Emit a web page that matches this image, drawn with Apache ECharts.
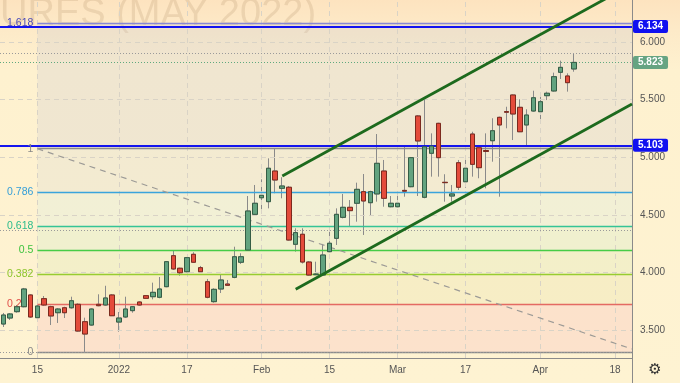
<!DOCTYPE html>
<html><head><meta charset="utf-8">
<script src="https://cdn.jsdelivr.net/npm/echarts@6/dist/echarts.min.js"></script>
<style>
html,body{margin:0;padding:0;}
#c{width:680px;height:383px;background:linear-gradient(to bottom,#fde3bf 0px,#fdeac8 30px,#fef1cf 70px,#fef3d2 383px);}
</style></head><body><div id="c"></div>
<script>
// ---- data ----
const opens  = [3.552,3.604,3.659,3.702,3.804,3.607,3.772,3.702,3.650,3.693,3.693,3.723,3.572,3.543,3.723,3.717,3.804,3.569,3.613,3.668,3.743,3.798,3.789,3.784,3.876,4.145,4.036,4.006,4.157,4.041,3.919,3.746,3.856,3.899,3.957,4.088,4.194,4.504,4.648,4.614,4.880,4.730,4.739,4.244,4.331,4.090,3.980,3.977,4.180,4.296,4.478,4.565,4.600,4.701,4.605,4.681,4.880,4.570,4.570,4.712,4.744,5.358,4.652,5.034,5.294,4.782,4.663,4.952,4.787,5.201,5.082,5.058,5.143,5.346,5.396,5.540,5.433,5.280,5.401,5.395,5.534,5.575,5.737,5.705,5.766];
const highs  = [3.648,3.647,3.717,3.865,3.810,3.717,3.795,3.711,3.691,3.702,3.789,3.732,3.607,3.688,3.810,3.884,3.812,3.656,3.789,3.708,3.749,3.802,3.911,3.960,4.099,4.194,4.041,4.134,4.175,4.056,3.943,3.862,3.977,3.934,4.223,4.166,4.663,4.759,4.808,4.990,5.074,4.826,4.750,4.383,4.383,4.099,4.093,4.247,4.397,4.556,4.681,4.628,4.779,4.854,4.709,5.201,4.976,4.663,4.663,5.091,5.002,5.366,5.511,5.207,5.299,4.852,4.759,4.976,4.999,5.221,5.106,5.207,5.338,5.352,5.438,5.545,5.503,5.416,5.577,5.531,5.569,5.734,5.838,5.728,5.902];
const lows   = [3.526,3.587,3.650,3.697,3.604,3.602,3.708,3.543,3.561,3.604,3.685,3.485,3.310,3.537,3.706,3.711,3.621,3.485,3.604,3.650,3.711,3.772,3.766,3.775,3.871,4.021,3.971,4.001,4.082,4.001,3.775,3.737,3.821,3.882,3.949,4.073,4.188,4.490,4.518,4.556,4.687,4.643,4.275,4.180,4.077,3.971,3.977,3.971,4.175,4.238,4.469,4.403,4.440,4.325,4.490,4.614,4.570,4.565,4.565,4.657,4.739,4.663,4.643,4.831,4.831,4.614,4.614,4.715,4.735,4.831,4.817,4.730,4.961,4.657,5.251,5.149,5.218,5.106,5.395,5.323,5.496,5.569,5.679,5.569,5.742];
const closes = [3.630,3.639,3.702,3.856,3.613,3.708,3.717,3.622,3.682,3.650,3.754,3.491,3.465,3.682,3.711,3.778,3.624,3.604,3.682,3.702,3.717,3.775,3.827,3.856,4.093,4.030,3.997,4.128,4.088,4.006,3.784,3.853,3.934,3.888,4.136,4.136,4.533,4.600,4.669,4.904,4.802,4.750,4.281,4.345,4.090,3.977,3.986,4.151,4.253,4.504,4.565,4.536,4.721,4.620,4.701,4.947,4.643,4.600,4.600,4.705,4.996,5.141,5.091,5.097,4.996,4.779,4.681,4.739,4.904,4.938,4.909,5.050,5.230,5.280,5.390,5.375,5.221,5.366,5.516,5.482,5.555,5.699,5.780,5.647,5.823];

const categoryCount = 93;                 // trading-day slots incl. empty future space
const tickIndex = [5,17,27,38,48,58,68,79,90];
const tickText  = ['15','2022','17','Feb','15','Mar','17','Apr','18'];
const priceTicks = [3.5,4.0,4.5,5.0,5.5,6.0];

const fibLow = 3.310, fibHigh = 5.074, fibStart = 5;
const fibRatios = [0,0.236,0.382,0.5,0.618,0.786,1,1.618];
const fibNames  = ['0','0.236','0.382','0.5','0.618','0.786','1','1.618'];

const upperChannel = [[41.04,4.837],[92.5,6.501]];
const lowerChannel = [[43.01,3.853],[92.5,5.462]];
const fibDiagonal  = [[5,5.074],[92.5,3.335]];
const blueLevels = [6.134,5.103];
const lastPrice = 5.823;
const highLine = 5.905;
const dottedLevels = [4.362,3.310];
const watermark = 'URES (MAY 2022)';

// ---- styling ----
const fibLineColors = ['#8c8c8c','#e46a62','#98cc30','#46cc46','#34c496','#3aa4dc','#8c8c8c','#8888d4'];
const fibTextColors = ['#888888','#e0504a','#8cc42a','#3ec23e','#2cbc8c','#349ed8','#888888','#4a4ab8'];
const fibBandColors = ['rgba(245,170,180,0.22)','rgba(220,220,150,0.2)','rgba(200,230,170,0.2)','rgba(190,230,200,0.22)','rgba(200,230,230,0.22)','rgba(200,210,215,0.2)','rgba(200,200,212,0.25)'];
const FONT = '"Liberation Sans", Arial, sans-serif';

const fibValue = r => fibLow + r * (fibHigh - fibLow);
const xEnd = categoryCount - 0.5;

const bandData = [];
for (let i = 0; i < fibRatios.length - 1; i++) {
  bandData.push([{coord:[fibStart, fibValue(fibRatios[i])], itemStyle:{color:fibBandColors[i]}},
                 {coord:[xEnd, fibValue(fibRatios[i+1])]}]);
}
const fibLineData = fibRatios.map((r,i) => [
  {coord:[fibStart, fibValue(r)], lineStyle:{color:fibLineColors[i], width:1.3, type:'solid'},
   label:{show:true, position:'start', formatter:fibNames[i], color:fibTextColors[i], fontSize:10.5, fontFamily:FONT, distance:4}},
  {coord:[xEnd, fibValue(r)]}
]);

const gridLineData = priceTicks.map(v => ({yAxis:v})).concat(tickIndex.map(k => ({xAxis:k})));

const tagLabel = (v, bg) => ({show:true, position:'end', formatter: v.toFixed(3), color:'#fff',
  backgroundColor:bg, padding:[2,5,1,5], fontSize:10, fontWeight:'bold', fontFamily:FONT, distance:1, borderRadius:2});

const categories = Array.from({length:categoryCount}, (_, i) => String(i));
const wickData = opens.map((o,i) => [o, closes[i], lows[i], highs[i]]);
const bodyData = opens.map((o,i) => [o, closes[i], Math.min(o,closes[i]), Math.max(o,closes[i])]);

const chart = echarts.init(document.getElementById('c'), null, {renderer:'canvas'});
chart.setOption({
  animation:false,
  grid:{left:0, right:48, top:0, bottom:25, containLabel:false, outerBoundsMode:'none'},
  xAxis:[
    {type:'category', data:categories, boundaryGap:true,
     axisLine:{show:true, onZero:false, lineStyle:{color:'#8a8a8a'}}, axisTick:{show:false},
     axisLabel:{interval:(idx) => tickIndex.includes(idx), formatter:(v) => tickText[tickIndex.indexOf(Number(v))] || '',
       color:'#555', fontSize:10, fontFamily:FONT, margin:7},
     splitLine:{show:false}},
    {type:'value', min:-0.5, max:xEnd, show:false}
  ],
  yAxis:[{type:'value', position:'right', min:3.2569, max:6.3646, scale:true,
    axisLine:{show:true, onZero:false, lineStyle:{color:'#8a8a8a'}}, axisTick:{show:false}, splitLine:{show:false},
    axisLabel:{customValues:priceTicks, formatter:v => v.toFixed(3), color:'#555', fontSize:10, fontFamily:FONT, margin:8}}],
  graphic:[
    {type:'text', z:1, x:0, y:15, style:{text:watermark, font:'38px ' + FONT, fill:'rgba(170,135,95,0.2)', verticalAlign:'middle'}},
    {type:'line', z:10, shape:{x1:632.5, y1:358, x2:632.5, y2:383}, style:{stroke:'#8a8a8a', lineWidth:1}},
    {type:'text', z:10, x:655, y:370, style:{text:'\u2699', font:'15px "DejaVu Sans"', fill:'#333', align:'center', verticalAlign:'middle'}}
  ],
  series:[
    {name:'grid', type:'line', xAxisIndex:1, data:[], z:1, silent:true,
     markLine:{silent:true, symbol:['none','none'], label:{show:false},
       lineStyle:{color:'#d9d3c6', width:1, type:[5,4]}, data:gridLineData}},
    {name:'fib', type:'line', xAxisIndex:1, data:[], z:2, silent:true, clip:false,
     markArea:{silent:true, data:bandData},
     markLine:{silent:true, symbol:['none','none'], data:fibLineData.concat([
       [{coord:fibDiagonal[0], lineStyle:{color:'#9c9a96', width:1.2, type:[6,5]}, label:{show:false}}, {coord:fibDiagonal[1]}]
     ])}},
    {name:'levels', type:'line', xAxisIndex:1, data:[], z:3, silent:true, clip:false,
     markLine:{silent:true, precision:3, symbol:['none','none'], data:[
       ...dottedLevels.map(v => ({yAxis:v, lineStyle:{color:'#9a9a9a', width:1, type:[1,2]}, label:{show:false}})),
       {yAxis:highLine, lineStyle:{color:'#9a9a9a', width:1, type:[1,2]}, label:{show:false}},
       {yAxis:lastPrice, lineStyle:{color:'#5fa97f', width:1, type:[1,2]}, label:tagLabel(lastPrice, '#66a482')},
       ...blueLevels.map(v => ({yAxis:v, lineStyle:{color:'#1414ee', width:2, type:'solid'}, label:tagLabel(v, '#1010f0')}))
     ]}},
    {name:'wicks', type:'candlestick', data:wickData, z:4, barWidth:5, silent:true,
     itemStyle:{color:'rgba(0,0,0,0)', color0:'rgba(0,0,0,0)', borderColor:'#8a8a8a', borderColor0:'#8a8a8a', borderWidth:1}},
    {name:'bodies', type:'candlestick', data:bodyData, z:5, barWidth:5, silent:true,
     itemStyle:{color:'#62a37f', color0:'#e44b3b', borderColor:'#355d45', borderColor0:'#7c2a1e', borderWidth:1}},
    {name:'upper', type:'line', xAxisIndex:1, data:upperChannel, z:6, symbol:'none', silent:true,
     lineStyle:{color:'#1d6a1d', width:2.8}},
    {name:'lower', type:'line', xAxisIndex:1, data:lowerChannel, z:6, symbol:'none', silent:true,
     lineStyle:{color:'#1d6a1d', width:2.8}}
  ]
});
</script></body></html>
